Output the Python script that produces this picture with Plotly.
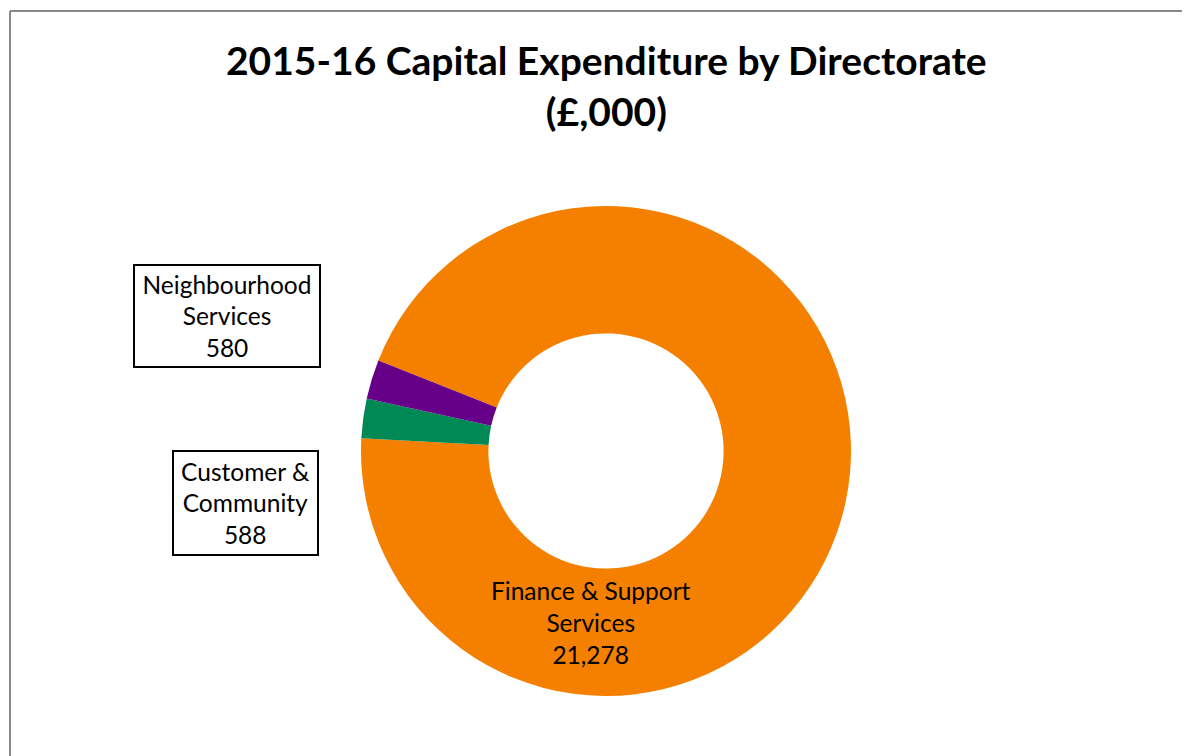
import plotly.graph_objects as go

# Data
labels = ["Finance & Support Services", "Customer & Community", "Neighbourhood Services"]
values = [21278, 588, 580]
colors = ["#F58000", "#008855", "#660088"]

W, H = 1190, 756
OFF = 8  # page body margin offset

def px(x):
    return (x - OFF) / W

def py(y):
    return 1 - (y - OFF) / H

fig = go.Figure()
fig.add_trace(go.Pie(
    labels=labels,
    values=values,
    marker=dict(colors=colors, line=dict(width=0)),
    hole=0.48,
    sort=False,
    direction="clockwise",
    rotation=291.7,
    textinfo="none",
    hoverinfo="label+value",
    showlegend=False,
    domain=dict(x=[px(361), px(851)], y=[py(696), py(206)]),
))

font_family = "Lato, Carlito, Calibri, 'Open Sans', sans-serif"
lab_size = 24.5

annotations = [
    dict(x=px(606), y=py(86), xref="paper", yref="paper",
         text="<b>2015-16 Capital Expenditure by Directorate<br>(£,000)</b>",
         showarrow=False, font=dict(size=39, color="#000000", family=font_family),
         align="center", xanchor="center", yanchor="middle"),
    dict(x=px(591), y=py(622), xref="paper", yref="paper",
         text=f"{labels[0].replace(' Services', '<br>Services')}<br>{values[0]:,}",
         showarrow=False, font=dict(size=lab_size, color="#000000", family=font_family),
         align="center", xanchor="center", yanchor="middle"),
    dict(x=px(227), y=py(316), xref="paper", yref="paper",
         text=f"Neighbourhood<br>Services<br>{values[2]:,}",
         showarrow=False, font=dict(size=lab_size, color="#000000", family=font_family),
         align="center", xanchor="center", yanchor="middle",
         bordercolor="#000000", borderwidth=2, borderpad=0,
         width=184, height=100, bgcolor="#FFFFFF"),
    dict(x=px(245.5), y=py(503), xref="paper", yref="paper",
         text=f"Customer &<br>Community<br>{values[1]:,}",
         showarrow=False, font=dict(size=lab_size, color="#000000", family=font_family),
         align="center", xanchor="center", yanchor="middle",
         bordercolor="#000000", borderwidth=2, borderpad=0,
         width=143, height=102, bgcolor="#FFFFFF"),
]

shapes = [
    dict(type="line", xref="paper", yref="paper", x0=px(10), x1=px(10), y0=py(11), y1=py(770),
         line=dict(color="#888888", width=2)),
    dict(type="line", xref="paper", yref="paper", x0=px(10), x1=px(1205), y0=py(11), y1=py(11),
         line=dict(color="#888888", width=2)),
]

fig.update_layout(
    width=W, height=H,
    margin=dict(l=0, r=0, t=0, b=0),
    paper_bgcolor="#FFFFFF",
    plot_bgcolor="#FFFFFF",
    annotations=annotations,
    shapes=shapes,
    font=dict(family=font_family),
)

fig.write_html("out.html")
